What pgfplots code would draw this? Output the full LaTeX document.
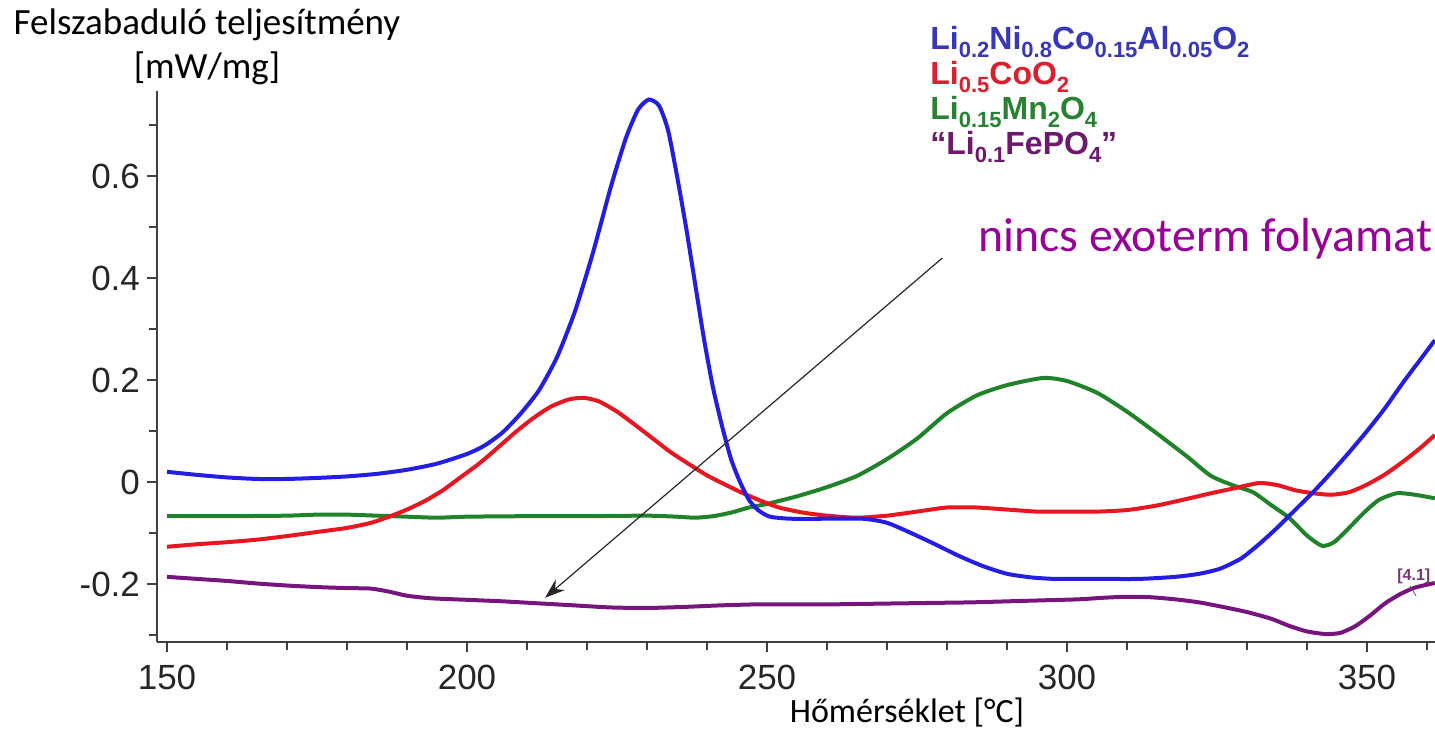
\documentclass[border=0pt]{standalone}
\usepackage{fontspec}
\setmainfont{Liberation Sans}
\newfontfamily\carlito{Carlito}
\usepackage{pgfplots}
\pgfplotsset{compat=1.18}
\usetikzlibrary{arrows.meta}
\definecolor{cblue}{RGB}{35,30,225}
\definecolor{cred}{RGB}{232,22,32}
\definecolor{cgreen}{RGB}{32,130,42}
\definecolor{cpurp}{RGB}{120,20,125}
\definecolor{lblue}{RGB}{55,55,185}
\definecolor{lred}{RGB}{220,30,45}
\definecolor{lgreen}{RGB}{40,130,50}
\definecolor{lpurp}{RGB}{110,25,110}
\definecolor{annot}{RGB}{153,0,153}
\newcommand\sub[1]{\raisebox{-0.25em}{\fontsize{11pt}{11pt}\selectfont #1}}
\begin{document}
\begin{tikzpicture}
\useasboundingbox (-78.5pt,-45pt) rectangle (639pt,321pt);
\begin{axis}[
  scale only axis, width=639pt, height=275.5pt,
  xmin=148.33, xmax=361.33, ymin=-0.3137, ymax=0.7667,
  axis x line*=bottom, axis y line*=left,
  axis line style={line width=1.4pt, color=black!75, -},
  xtick={150,200,250,300,350}, xticklabels={150,200,250,300,350},
  minor xtick={160,170,180,190,210,220,230,240,260,270,280,290,310,320,330,340,360},
  ytick={-0.2,0,0.2,0.4,0.6}, yticklabels={-0.2,0,0.2,0.4,0.6},
  minor ytick={-0.3,-0.1,0.1,0.3,0.5,0.7},
  tick align=outside, major tick length=5pt, minor tick length=4pt,
  tick style={line width=1pt, black!75},
  ticklabel style={font=\fontsize{17.5pt}{20pt}\selectfont, text=black!85},
  xticklabel style={yshift=-3pt},
]
\addplot[cgreen, line width=2pt, smooth, tension=0.4] coordinates {
(150,-0.067) (160,-0.067) (170,-0.066) (175,-0.064) (180,-0.064) (185,-0.066)
(190,-0.068) (195,-0.070) (200,-0.068) (210,-0.067) (220,-0.067) (230,-0.066)
(235,-0.068) (238,-0.070) (241,-0.067) (244,-0.060) (247,-0.050) (250,-0.043)
(255,-0.028) (260,-0.010) (265,0.012) (270,0.045) (275,0.085) (280,0.135)
(285,0.170) (290,0.190) (296,0.204) (300,0.198) (305,0.175) (310,0.138)
(315,0.095) (320,0.050) (324,0.012) (328,-0.008) (331,-0.020) (334,-0.045)
(337,-0.070) (340,-0.105) (342.5,-0.125) (344.5,-0.118) (347,-0.090)
(349.5,-0.060) (352,-0.035) (355,-0.022) (358,-0.025) (361.3,-0.032)
};
\addplot[cred, line width=2pt, smooth, tension=0.4] coordinates {
(150,-0.127) (155,-0.122) (160,-0.118) (165,-0.113) (170,-0.106) (175,-0.098)
(180,-0.090) (184,-0.080) (187,-0.068) (190,-0.054) (193,-0.037) (196,-0.016)
(199,0.010) (202,0.036) (205,0.066) (208,0.097) (211,0.125) (214,0.148)
(217,0.162) (219.5,0.165) (222,0.158) (225,0.138) (228,0.112) (231,0.085)
(234,0.058) (237,0.035) (240,0.013) (243,-0.005) (246,-0.022) (249,-0.037)
(252,-0.050) (256,-0.060) (260,-0.066) (265,-0.070) (270,-0.066) (275,-0.058)
(280,-0.050) (285,-0.050) (290,-0.054) (295,-0.058) (300,-0.058) (305,-0.058)
(310,-0.055) (315,-0.046) (320,-0.033) (324,-0.022) (328,-0.012) (332,-0.002)
(335,-0.006) (338,-0.016) (341,-0.022) (344,-0.025) (347,-0.020) (350,-0.005)
(353,0.015) (356,0.040) (359,0.068) (361.3,0.092)
};
\addplot[cblue, line width=2pt, smooth, tension=0.4] coordinates {
(150,0.020) (155,0.014) (160,0.009) (165,0.006) (170,0.006) (175,0.008)
(180,0.011) (185,0.016) (190,0.024) (195,0.036) (200,0.055) (203,0.072)
(206,0.098) (209,0.135) (212,0.180) (215,0.245) (218,0.335) (221,0.450)
(224,0.580) (226.5,0.675) (228.5,0.730) (230.3,0.750) (232,0.738) (233.5,0.690)
(235,0.600) (236.5,0.500) (238,0.390) (239.5,0.280) (241,0.185) (242.5,0.110)
(244,0.045) (245.5,0.000) (247,-0.035) (248.5,-0.055) (250.5,-0.068)
(254,-0.072) (260,-0.072) (266,-0.072) (270,-0.080) (274,-0.100) (278,-0.122)
(282,-0.145) (286,-0.165) (290,-0.180) (294,-0.187) (298,-0.190) (305,-0.190)
(312,-0.190) (318,-0.186) (322,-0.180) (325.5,-0.170) (329,-0.150)
(332,-0.122) (335,-0.090) (338,-0.055) (341,-0.020) (344,0.018) (347,0.058)
(350,0.100) (353,0.145) (356,0.195) (359,0.242) (361.3,0.278)
};
\addplot[cpurp, line width=2pt, smooth, tension=0.4] coordinates {
(150,-0.186) (155,-0.190) (160,-0.194) (165,-0.199) (170,-0.203) (175,-0.206)
(180,-0.208) (184,-0.209) (187,-0.215) (190,-0.223) (194,-0.228) (200,-0.231)
(206,-0.234) (212,-0.238) (218,-0.242) (224,-0.246) (230,-0.247) (236,-0.245)
(242,-0.242) (248,-0.240) (254,-0.240) (260,-0.240) (266,-0.239) (272,-0.238)
(278,-0.237) (284,-0.236) (290,-0.234) (296,-0.232) (302,-0.230) (306,-0.227)
(310,-0.225) (314,-0.226) (318,-0.230) (322,-0.236) (326,-0.245) (330,-0.255)
(334,-0.268) (337,-0.282) (340,-0.293) (343,-0.298) (345.5,-0.296)
(348,-0.283) (350.5,-0.262) (353,-0.238) (355.5,-0.220) (358,-0.207)
(361.3,-0.198)
};
\draw[black!85, line width=0.6pt, -{Stealth[length=10pt,width=7pt]}]
  (axis cs:279.2,0.439) -- (axis cs:213,-0.227);
\end{axis}
% axis titles and annotations (axis south west at (0,0); 1px = 0.5pt)
\node[anchor=north, align=center, inner sep=0pt,
  font=\carlito\fontsize{18.5pt}{22pt}\selectfont] at (25pt,317pt)
  {Felszabaduló teljesítmény\\{[mW/mg]}};
\node[anchor=base, inner sep=0pt, font=\carlito\fontsize{17pt}{17pt}\selectfont]
  at (375pt,-40.5pt) {Hőmérséklet [°C]};
\node[anchor=base west, inner sep=0pt, text=annot,
  font=\carlito\fontsize{23.9pt}{23.9pt}\selectfont] at (410.5pt,195pt)
  {nincs exoterm folyamat};
\node[anchor=base west, inner sep=0pt, text=lblue, font=\bfseries\fontsize{16pt}{16pt}\selectfont]
  at (386.5pt,296pt) {Li\sub{0.2}Ni\sub{0.8}Co\sub{0.15}Al\sub{0.05}O\sub{2}};
\node[anchor=base west, inner sep=0pt, text=lred, font=\bfseries\fontsize{16pt}{16pt}\selectfont]
  at (386.5pt,278.5pt) {Li\sub{0.5}CoO\sub{2}};
\node[anchor=base west, inner sep=0pt, text=lgreen, font=\bfseries\fontsize{16pt}{16pt}\selectfont]
  at (386.5pt,261pt) {Li\sub{0.15}Mn\sub{2}O\sub{4}};
\node[anchor=base west, inner sep=0pt, text=lpurp, font=\bfseries\fontsize{16pt}{16pt}\selectfont]
  at (386.5pt,243.5pt) {“Li\sub{0.1}FePO\sub{4}”};
\node[anchor=base west, inner sep=0pt, text=lpurp!70!gray, font=\bfseries\fontsize{8pt}{8pt}\selectfont]
  at (620pt,30.5pt) {[4.1]};
\draw[lpurp!60!gray, line width=0.4pt] (626.5pt,28pt) -- (629.5pt,23pt);
\end{tikzpicture}
\end{document}
